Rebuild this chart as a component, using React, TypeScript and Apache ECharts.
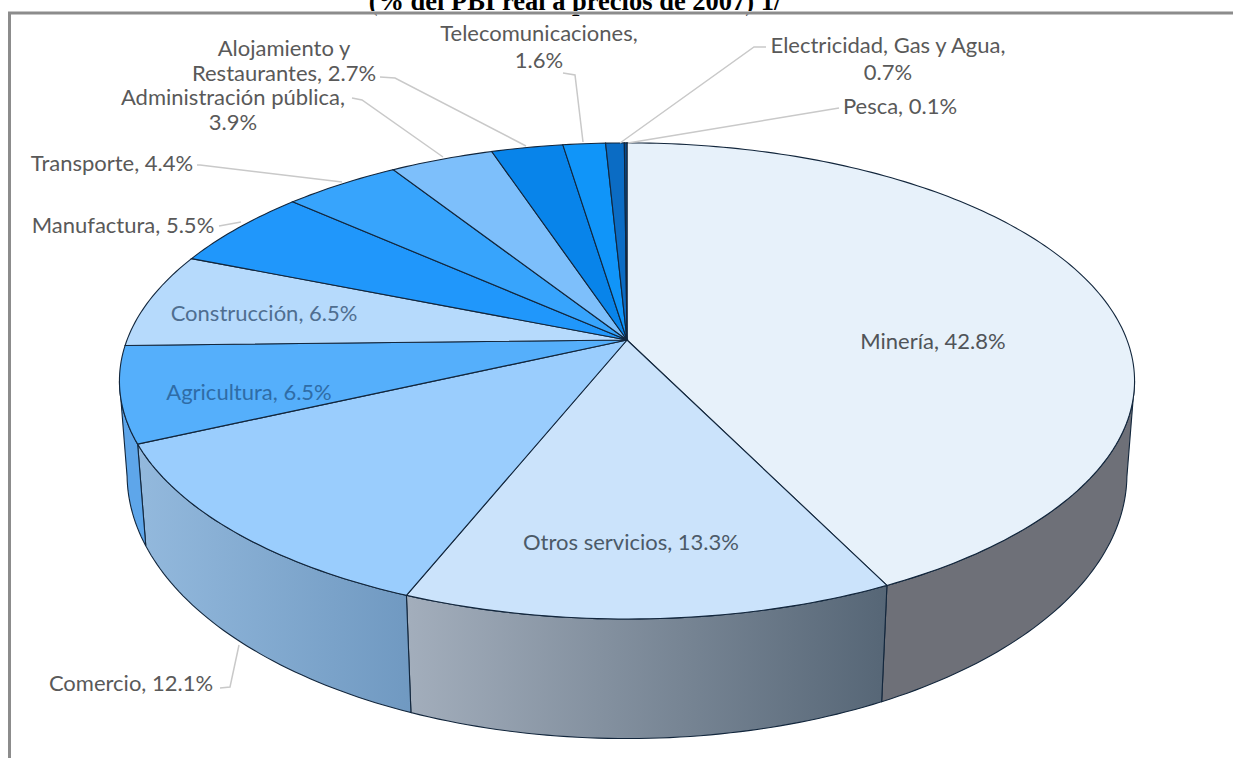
import React, { useEffect, useRef } from "react";
import * as echarts from "echarts";

const categories = ["Minería", "Otros servicios", "Comercio", "Agricultura", "Construcción", "Manufactura", "Transporte", "Administración pública", "Alojamiento y Restaurantes", "Telecomunicaciones", "Electricidad, Gas y Agua", "Pesca"];
const shares = [42.8, 13.3, 12.1, 6.5, 6.5, 5.5, 4.4, 3.9, 2.7, 1.6, 0.7, 0.1];
const titleText = "(% del PBI real a precios de 2007) 1/";

const topColors = ["#e7f1fa", "#cbe3fb", "#9acdfd", "#55affb", "#b6dafc", "#2097fb", "#37a4fc", "#7dbffb", "#0884ea", "#1095f9", "#0b6cc4", "#0a4a8a"];
const sideColors: (string | [string, string])[] = ["#6e7078", ["#a3aebc", "#566676"], ["#93b9dd", "#7099c1"], "#5ea6ea", "#88b0d8", "#1b78c8", "#2a82ca", "#5f96c8", "#0466b6", "#0b76c8", "#08538f", "#063a6e"];
const labelColors = ["#505458", "#4c5a68", "#595959", "#2f6ca6", "#4f6e90", "#595959", "#595959", "#595959", "#595959", "#595959", "#595959", "#595959"];

type Label = { x: number; y: number; lines?: string; lineHeight?: number; leader: number[][] };
const labelLayout: Label[] = [
  { x: 933, y: 340, leader: [] },
  { x: 631, y: 541, leader: [] },
  { x: 131, y: 682, leader: [[239, 645], [230, 687], [220, 688]] },
  { x: 249, y: 391, leader: [] },
  { x: 264, y: 312, leader: [] },
  { x: 123, y: 224, leader: [[241, 222], [219, 226]] },
  { x: 112, y: 162, leader: [[342, 182], [200, 165], [197, 165]] },
  { x: 233, y: 109, lines: "Administración pública,", lineHeight: 25, leader: [[443, 157], [362, 100], [352, 98]] },
  { x: 284, y: 59.5, lines: "Alojamiento y", lineHeight: 25, leader: [[526, 146], [395, 78], [380, 77]] },
  { x: 539, y: 46, lines: "Telecomunicaciones,", leader: [[583, 142], [575, 75], [563, 73]] },
  { x: 888, y: 58, lines: "Electricidad, Gas y Agua,", leader: [[620, 143], [754, 47], [766, 47]] },
  { x: 900, y: 105, leader: [[628, 143], [839, 108]] },
];

// Perspective projection of the top and bottom discs
const CX = 627;
const topDisc = { cy: 340, rx: 500, ry: 231, k: 0.172 };
const bottomDisc = { cy: 430.4, rx: 493, ry: 257, k: 0.166 };
const SIDE_FROM = 100;
const SIDE_TO = 260;

const project = (d: typeof topDisc, deg: number) => {
  const a = (deg * Math.PI) / 180;
  const u = Math.sin(a);
  const v = -Math.cos(a);
  const w = 1 - d.k * v;
  return [CX + (d.rx * u) / w, d.cy + (d.ry * v) / w];
};
const arc = (d: typeof topDisc, from: number, to: number) => {
  const pts: number[][] = [];
  const n = Math.max(2, Math.ceil(Math.abs(to - from)));
  for (let i = 0; i <= n; i++) pts.push(project(d, from + ((to - from) * i) / n));
  return pts;
};

const total = shares.reduce((s, v) => s + v, 0);
const angleRange = (i: number) => {
  const before = shares.slice(0, i).reduce((s, v) => s + v, 0);
  return [(before / total) * 360, ((before + shares[i]) / total) * 360];
};
const OUTLINE = "#12263c";
const FONT = "Lato, 'Open Sans', sans-serif";

const sideRender = (_: any, api: any) => {
  const i = api.value(0);
  const [a0, a1] = angleRange(i);
  const from = Math.max(a0, SIDE_FROM);
  const to = Math.min(a1, SIDE_TO);
  if (to <= from) return { type: "group", children: [] };
  const c = sideColors[i];
  const fill = Array.isArray(c)
    ? new echarts.graphic.LinearGradient(0, 0, 1, 0, [{ offset: 0, color: c[0] }, { offset: 1, color: c[1] }])
    : c;
  return {
    type: "polygon",
    shape: { points: [...arc(topDisc, from, to), ...arc(bottomDisc, to, from)] },
    style: { fill, stroke: OUTLINE, lineWidth: 1.1 },
  };
};

const topRender = (_: any, api: any) => {
  const i = api.value(0);
  const [a0, a1] = angleRange(i);
  return {
    type: "polygon",
    shape: { points: [[CX, topDisc.cy], ...arc(topDisc, a0, a1)] },
    style: { fill: topColors[i], stroke: OUTLINE, lineWidth: 1.1 },
  };
};

const labelRender = (_: any, api: any) => {
  const i = api.value(0);
  const lay = labelLayout[i];
  const full = `${categories[i]}, ${shares[i].toFixed(1)}%`;
  const text = lay.lines ? `${lay.lines}\n${full.slice(lay.lines.length + 1)}` : full;
  const children: any[] = [];
  if (lay.leader.length)
    children.push({ type: "polyline", shape: { points: lay.leader }, style: { fill: "none", stroke: "#c9c9c9", lineWidth: 1.5 } });
  children.push({
    type: "text",
    style: { x: lay.x, y: lay.y, text, fill: labelColors[i], font: `22px ${FONT}`, align: "center", verticalAlign: "middle", lineHeight: lay.lineHeight ?? 27 },
  });
  return { type: "group", children };
};

const seriesData = categories.map((_, i) => [i, shares[i]]);

export default function App() {
  const ref = useRef<HTMLDivElement>(null);
  useEffect(() => {
    document.body.style.margin = "0";
    const chart = echarts.init(ref.current!, undefined, { renderer: "svg" });
    chart.setOption({
      animation: false,
      backgroundColor: "#ffffff",
      graphic: [
        { type: "text", z: 10, style: { x: 575, y: 14, text: titleText, fill: "#000", font: "bold 26.5px 'Liberation Serif', serif", align: "center", verticalAlign: "bottom" } },
        { type: "rect", z: 11, shape: { x: 0, y: 11, width: 1233, height: 3.5 }, style: { fill: "#ffffff" } },
        { type: "rect", z: 12, shape: { x: 8, y: 11.5, width: 1225, height: 3 }, style: { fill: "#8c8c8c" } },
        { type: "rect", z: 12, shape: { x: 8, y: 12, width: 3, height: 746 }, style: { fill: "#8c8c8c" } },
      ],
      series: [
        { type: "custom", coordinateSystem: "none", renderItem: sideRender, data: seriesData, z: 1 },
        { type: "custom", coordinateSystem: "none", renderItem: topRender, data: seriesData, z: 2 },
        { type: "custom", coordinateSystem: "none", renderItem: labelRender, data: seriesData, z: 3 },
      ],
    });
    return () => chart.dispose();
  }, []);
  return <div ref={ref} style={{ width: 1233, height: 758, overflow: "hidden" }} />;
}
